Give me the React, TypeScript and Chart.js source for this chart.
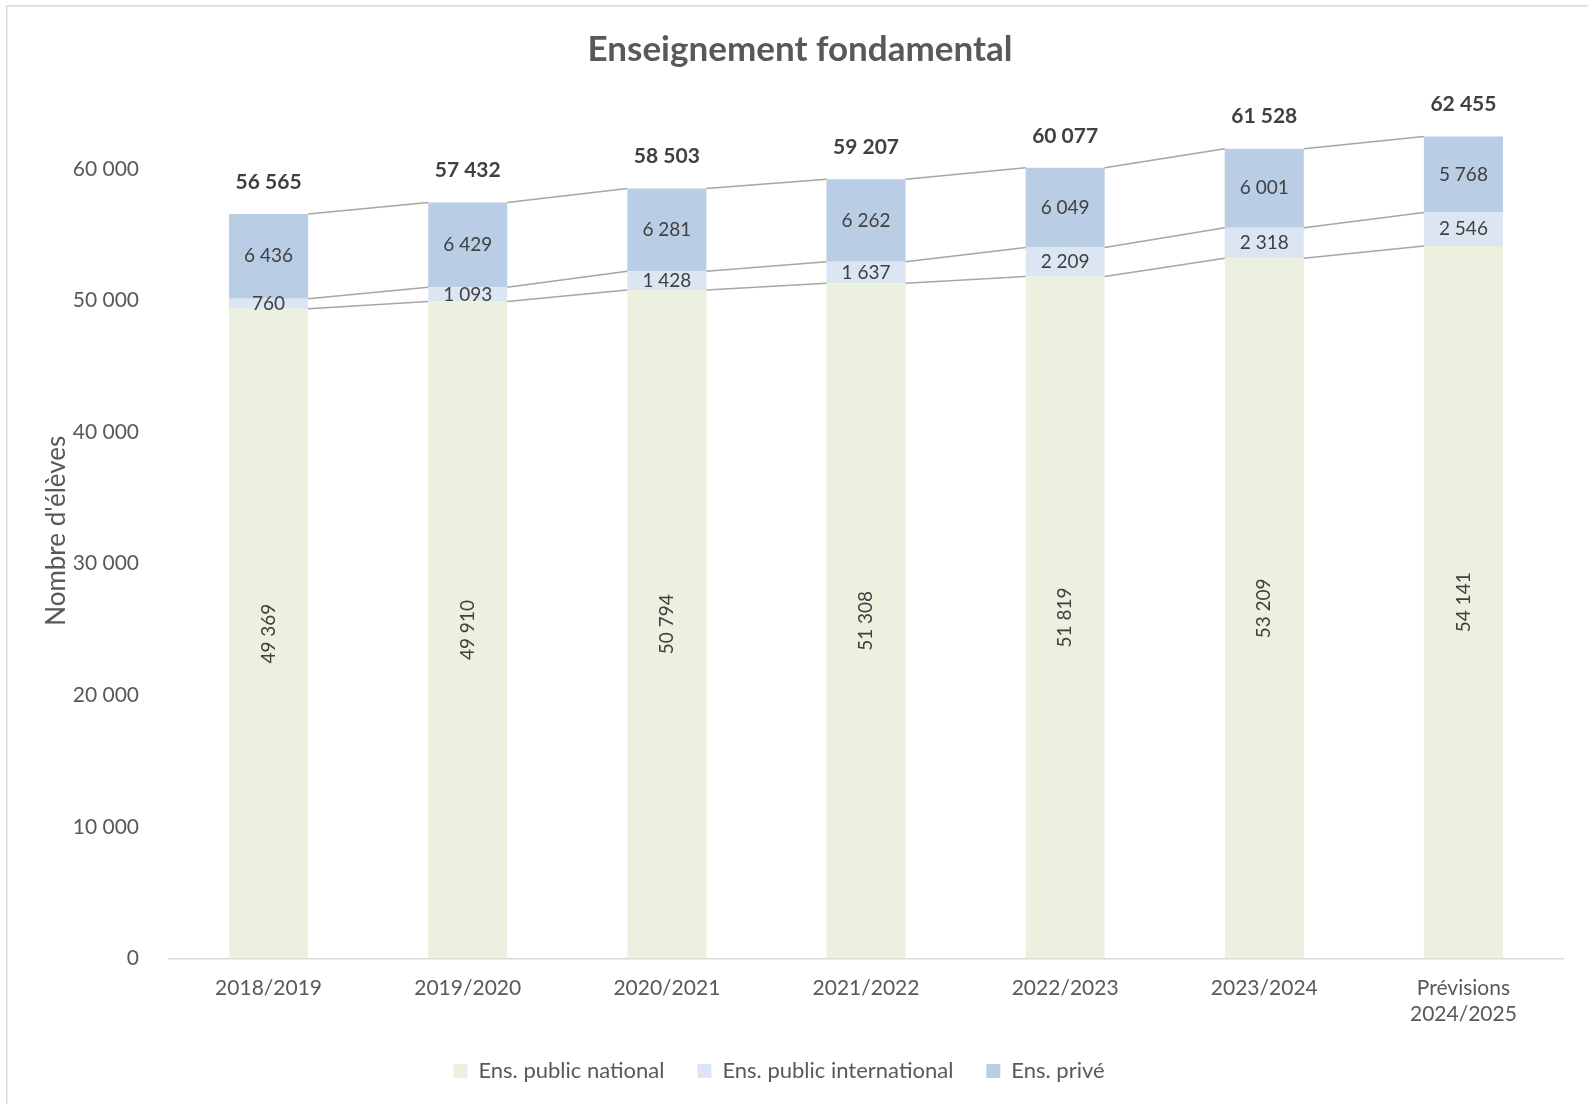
import React, { useEffect, useRef } from "react";
import { Chart, registerables } from "chart.js";

Chart.register(...registerables);

const FONT = "Lato, 'Open Sans', sans-serif";
const TEXT_COLOR = "#595959";
const LABEL_COLOR = "#404040";

const categories: (string | string[])[] = [
  "2018/2019",
  "2019/2020",
  "2020/2021",
  "2021/2022",
  "2022/2023",
  "2023/2024",
  ["Prévisions", "2024/2025"],
];
const seriesNames = ["Ens. public national", "Ens. public international", "Ens. privé"];
const publicNational = [49369, 49910, 50794, 51308, 51819, 53209, 54141];
const publicInternational = [760, 1093, 1428, 1637, 2209, 2318, 2546];
const prive = [6436, 6429, 6281, 6262, 6049, 6001, 5768];
const seriesColors = ["#EBF1DE", "#DCE6F2", "#B9CDE5"];
const yTickValues = [0, 10000, 20000, 30000, 40000, 50000, 60000];
const yMin = 0;
const yMax = 65000;
const chartTitle = "Enseignement fondamental";
const yTitle = "Nombre d'élèves";

const fmt = (n: number) => String(Math.round(n)).replace(/\B(?=(\d{3})+(?!\d))/g, " ");

const framePlugin = {
  id: "frame",
  beforeDraw(chart: any) {
    const { ctx, width, height } = chart;
    ctx.save();
    ctx.fillStyle = "#ffffff";
    ctx.fillRect(0, 0, width, height);
    ctx.strokeStyle = "#D9D9D9";
    ctx.lineWidth = 1.5;
    ctx.beginPath();
    ctx.moveTo(6.75, height);
    ctx.lineTo(6.75, 5.75);
    ctx.lineTo(width, 5.75);
    ctx.stroke();
    ctx.restore();
  },
};

const legendShiftPlugin = {
  id: "legendShift",
  afterLayout(chart: any) {
    if (chart.legend) {
      chart.legend.left -= 21;
      chart.legend.right -= 21;
    }
  },
};

const seriesLinesPlugin = {
  id: "seriesLines",
  afterDatasetsDraw(chart: any) {
    const ctx = chart.ctx;
    ctx.save();
    ctx.strokeStyle = "#A6A6A6";
    ctx.lineWidth = 1.5;
    chart.data.datasets.forEach((_: any, di: number) => {
      const meta = chart.getDatasetMeta(di);
      for (let j = 0; j < meta.data.length - 1; j++) {
        const a = meta.data[j].getProps(["x", "y", "width"], true);
        const b = meta.data[j + 1].getProps(["x", "y", "width"], true);
        ctx.beginPath();
        ctx.moveTo(a.x + a.width / 2, a.y);
        ctx.lineTo(b.x - b.width / 2, b.y);
        ctx.stroke();
      }
    });
    ctx.restore();
  },
};

const labelsPlugin = {
  id: "valueLabels",
  afterDatasetsDraw(chart: any) {
    const ctx = chart.ctx;
    ctx.save();
    ctx.fillStyle = LABEL_COLOR;
    ctx.textAlign = "center";
    ctx.textBaseline = "middle";
    const n = chart.data.labels.length;
    chart.data.datasets.forEach((ds: any, di: number) => {
      const meta = chart.getDatasetMeta(di);
      meta.data.forEach((bar: any, j: number) => {
        const p = bar.getProps(["x", "y", "base"], true);
        const cy = (p.y + p.base) / 2;
        ctx.font = `19px ${FONT}`;
        const txt = fmt(ds.data[j]);
        if (di === 0) {
          ctx.save();
          ctx.translate(p.x, cy);
          ctx.rotate(-Math.PI / 2);
          ctx.fillText(txt, 0, 0);
          ctx.restore();
        } else {
          ctx.fillText(txt, p.x, cy);
        }
      });
    });
    const lastMeta = chart.getDatasetMeta(chart.data.datasets.length - 1);
    for (let j = 0; j < n; j++) {
      const total = chart.data.datasets.reduce((s: number, ds: any) => s + ds.data[j], 0);
      const p = lastMeta.data[j].getProps(["x", "y"], true);
      ctx.font = `bold 21px ${FONT}`;
      ctx.fillText(fmt(total), p.x, p.y - 32);
    }
    ctx.restore();
  },
};

export default function App() {
  const ref = useRef<HTMLCanvasElement | null>(null);

  useEffect(() => {
    document.body.style.margin = "0";
    if (!ref.current) return;
    const datasets = [publicNational, publicInternational, prive].map((d, i) => ({
      label: seriesNames[i],
      data: d,
      backgroundColor: seriesColors[i],
      borderWidth: 0,
      categoryPercentage: 1,
      barPercentage: 0.397,
    }));
    const chart = new Chart(ref.current, {
      type: "bar",
      data: { labels: categories as any, datasets },
      options: {
        responsive: false,
        animation: false,
        maintainAspectRatio: false,
        layout: { padding: { left: 37, right: 25, top: 0, bottom: 12 } },
        plugins: {
          title: {
            display: true,
            text: chartTitle,
            color: TEXT_COLOR,
            font: { family: FONT, size: 35, weight: "bold", lineHeight: 1.2 },
            padding: { top: 29, bottom: 32 },
          },
          legend: {
            position: "bottom",
            labels: {
              boxWidth: 14,
              boxHeight: 14,
              color: TEXT_COLOR,
              font: { family: FONT, size: 22 },
              padding: 33,
            },
          },
          tooltip: { enabled: false },
        },
        scales: {
          x: {
            stacked: true,
            grid: { display: false },
            border: { display: true, color: "#D9D9D9", width: 1.5 },
            ticks: {
              color: TEXT_COLOR,
              font: { family: FONT, size: 21 },
              padding: 9.5,
              maxRotation: 0,
              autoSkip: false,
            },
            afterFit: (s: any) => {
              s.height = 68.5;
            },
          },
          y: {
            stacked: true,
            min: yMin,
            max: yMax,
            grid: { display: false },
            border: { display: false },
            afterBuildTicks: (s: any) => {
              s.ticks = yTickValues.map((v) => ({ value: v }));
            },
            ticks: {
              padding: 22,
              color: TEXT_COLOR,
              font: { family: FONT, size: 21 },
              callback: (v: any) => fmt(Number(v)),
            },
            title: {
              display: true,
              text: yTitle,
              color: TEXT_COLOR,
              font: { family: FONT, size: 26 },
              padding: { top: 4, bottom: 4 },
            },
            afterFit: (s: any) => {
              s.width = 132;
            },
          },
        },
      } as any,
      plugins: [framePlugin, legendShiftPlugin, seriesLinesPlugin, labelsPlugin],
    });
    return () => chart.destroy();
  }, []);

  return (
    <div style={{ width: 1588, height: 1104, overflow: "hidden", position: "relative" }}>
      <canvas ref={ref} width={1588} height={1104} style={{ display: "block", width: 1588, height: 1104 }} />
    </div>
  );
}
